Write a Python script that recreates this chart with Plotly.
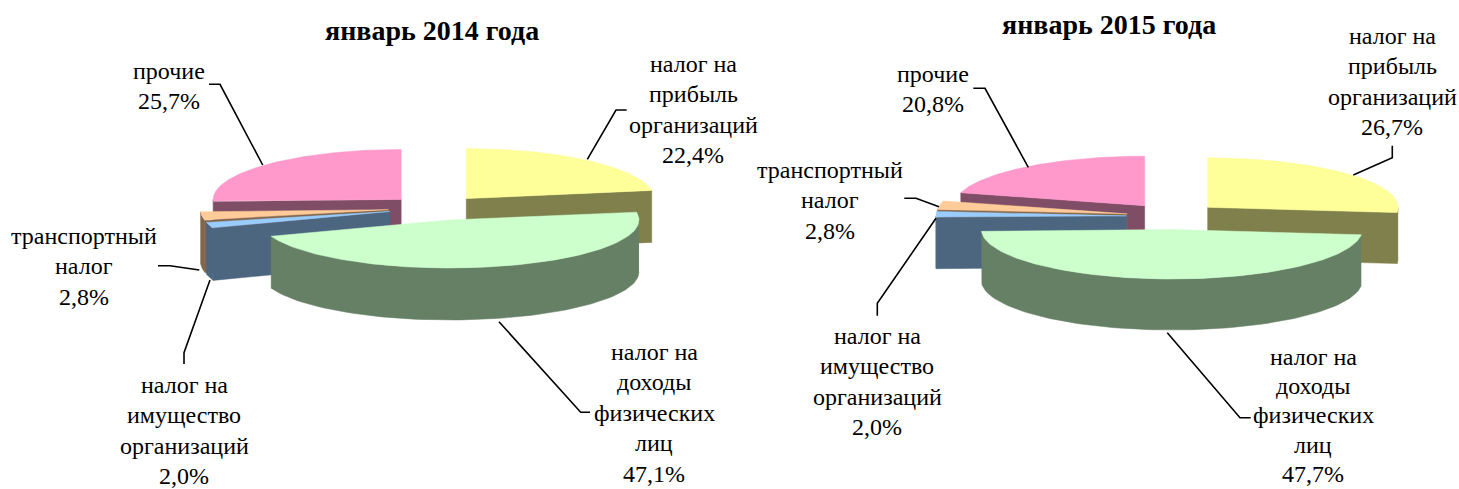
import numpy as np
import plotly.graph_objects as go

# ---- data ----
categories = ["налог на прибыль организаций", "налог на доходы физических лиц",
              "налог на имущество организаций", "транспортный налог", "прочие"]
label_lines = [["налог на", "прибыль", "организаций"],
               ["налог на", "доходы", "физических", "лиц"],
               ["налог на", "имущество", "организаций"],
               ["транспортный", "налог"],
               ["прочие"]]
values_2014 = [22.4, 47.1, 2.0, 2.8, 25.7]
values_2015 = [26.7, 47.7, 2.0, 2.8, 20.8]
title_2014 = "январь 2014 года"
title_2015 = "январь 2015 года"

# ---- styles ----
top_colors = ["#FFFF99", "#CCFFCC", "#99CCFF", "#FFCC99", "#FF99CC"]
side_colors = ["#80804D", "#668066", "#4D6680", "#80664D", "#804D66"]
draw_order = [4, 0, 3, 2, 1]
FONT = "Liberation Serif"
FS = 24
TITLE_FS = 28

# ---- chart geometry ----
# "front" corrects the big front slice for the chart's slight perspective: dx, extra rx, extra ry
geo_2014 = dict(cx=435.5, cy=208.0, rx=188.0, ry=50.0, depth=52.0, ex=47.5, ey=12.4,
                front=(2.0, 1.5, -2.0))
geo_2015 = dict(cx=1173.0, cy=216.2, rx=190.5, ry=49.5, depth=51.0, ex=46.6, ey=13.3,
                front=(0.5, 0.0, 0.0))

label_pos_2014 = [(693, 64), (654, 352), (184, 385), (84, 236), (169, 71)]
label_pos_2015 = [(1392, 36), (1313, 357), (877, 336), (830, 170), (933, 74)]
line_step_2014 = [30.4, 30.4, 30.4, 30.4, 30.4]
line_step_2015 = [30.4, 29.2, 30.4, 30.4, 30.4]
title_pos_2014 = (432, 30)
title_pos_2015 = (1109, 24)

leaders = [
    [(587.3, 159.3), (616, 110), (626.7, 110)],
    [(499, 321.7), (580.7, 412.3), (590, 412.3)],
    [(210, 280), (184, 352.7), (184, 364)],
    [(199.3, 270), (170, 265.7), (158, 265.7)],
    [(262.7, 165), (220, 84.3), (209, 84.3)],
    [(1353.3, 175), (1392.3, 157.7), (1392.3, 145.7)],
    [(1167.3, 332.7), (1240, 417.7), (1250.7, 417.7)],
    [(936, 218.3), (877.3, 303.3), (877.3, 315.7)],
    [(939, 206.7), (916, 198.3), (904.3, 198.3)],
    [(1028.3, 167.3), (985, 88.3), (973.3, 88.3)],
]

fig = go.Figure()


def poly(xs, ys, color):
    fig.add_trace(go.Scatter(x=list(xs), y=list(ys), mode="lines", fill="toself",
                             fillcolor=color, line=dict(color=color, width=0.5),
                             hoverinfo="skip", showlegend=False))


def draw_pie(values, g):
    total = sum(values)
    ends = np.cumsum(values) / total * 2 * np.pi
    starts = np.concatenate([[0], ends[:-1]])
    largest = int(np.argmax(values))
    for i in draw_order:
        a, b = starts[i], ends[i]
        mid = (a + b) / 2
        dx, drx, dry = g["front"] if i == largest else (0.0, 0.0, 0.0)
        ax = g["cx"] + g["ex"] * np.sin(mid) + dx
        ay = g["cy"] - g["ey"] * np.cos(mid)
        rx, ry = g["rx"] + drx, g["ry"] + dry

        def pt(t):
            return ax + rx * np.sin(t), ay - ry * np.cos(t)

        d = g["depth"]
        # radial walls that face the viewer
        for t, visible in ((a, np.sin(a) < 0), (b, np.sin(b) > 0)):
            if visible:
                x, y = pt(t)
                poly([ax, x, x, ax, ax], [ay, y, y + d, ay + d, ay], side_colors[i])
        # outer rim on the front half
        lo, hi = max(a, np.pi / 2), min(b, 3 * np.pi / 2)
        if hi > lo:
            t = np.linspace(lo, hi, 90)
            x, y = pt(t)
            poly(np.concatenate([x, x[::-1]]), np.concatenate([y, y[::-1] + d]), side_colors[i])
        # top face
        t = np.linspace(a, b, 120)
        x, y = pt(t)
        poly(np.concatenate([[ax], x, [ax]]), np.concatenate([[ay], y, [ay]]), top_colors[i])


draw_pie(values_2014, geo_2014)
draw_pie(values_2015, geo_2015)

for path in leaders:
    fig.add_trace(go.Scatter(x=[p[0] for p in path], y=[p[1] for p in path], mode="lines",
                             line=dict(color="#000000", width=1.6),
                             hoverinfo="skip", showlegend=False))

annotations = []


def text(x, y, s, bold=False, size=FS):
    annotations.append(dict(x=x, y=y, xref="x", yref="y", text=f"<b>{s}</b>" if bold else s,
                            showarrow=False, xanchor="center", yanchor="middle",
                            font=dict(family=FONT, size=size, color="#000000")))


for values, positions, steps in ((values_2014, label_pos_2014, line_step_2014),
                                 (values_2015, label_pos_2015, line_step_2015)):
    for lines, v, (x, y), step in zip(label_lines, values, positions, steps):
        rows = lines + [f"{v:.1f}".replace(".", ",") + "%"]
        for k, row in enumerate(rows):
            text(x, y + k * step, row)

text(*title_pos_2014, title_2014, bold=True, size=TITLE_FS)
text(*title_pos_2015, title_2015, bold=True, size=TITLE_FS)

axis = dict(visible=False, fixedrange=True)
fig.update_layout(
    width=1459, height=489, margin=dict(l=0, r=0, t=0, b=0),
    paper_bgcolor="#FFFFFF", plot_bgcolor="#FFFFFF",
    xaxis=dict(range=[0, 1459], **axis),
    yaxis=dict(range=[489, 0], **axis),
    annotations=annotations, showlegend=False,
)
fig.write_html("out.html", config=dict(displayModeBar=False),
               post_script="document.body.style.margin='0';document.documentElement.style.overflow='hidden';")
